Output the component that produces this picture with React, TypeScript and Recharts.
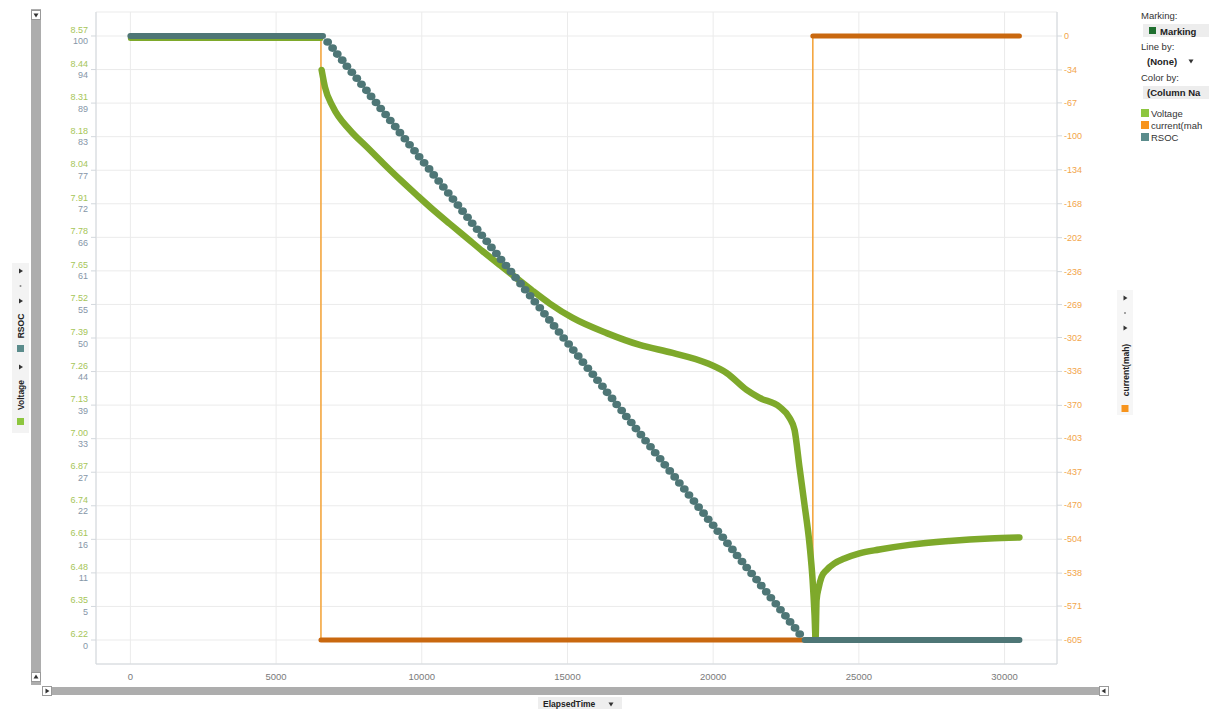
import { ComposedChart, Line, Scatter, XAxis, YAxis, CartesianGrid } from "recharts";

const FONT = '"Liberation Sans", Arial, sans-serif';

// axis ticks
const X_TICKS = [0, 5000, 10000, 15000, 20000, 25000, 30000];
const VOLT_TICKS = ["8.57", "8.44", "8.31", "8.18", "8.04", "7.91", "7.78", "7.65", "7.52", "7.39", "7.26", "7.13", "7.00", "6.87", "6.74", "6.61", "6.48", "6.35", "6.22"];
const RSOC_TICKS = [100, 94, 89, 83, 77, 72, 66, 61, 55, 50, 44, 39, 33, 27, 22, 16, 11, 5, 0];
const CURRENT_TICKS = [0, -34, -67, -100, -134, -168, -202, -236, -269, -302, -336, -370, -403, -437, -470, -504, -538, -571, -605];

// Voltage: rest before discharge, then the discharge + recovery curve
const VOLT_REST_T = [0, 6540];
const VOLT_REST_V = [8.56, 8.56];
const VOLT_T = [6563, 6676, 6951, 7534, 8117, 8665, 9248, 9831, 10380, 10963, 11546, 12095, 12678, 13261, 13810, 14393, 15181, 16347, 17479, 18610, 19776, 20462, 21148, 21594, 22280, 22623, 22794, 22966, 23137, 23309, 23412, 23480, 23515, 23549, 23618, 23718, 23890, 24164, 24507, 25021, 25707, 26736, 28107, 29479, 30510];
const VOLT_V = [8.438, 8.372, 8.294, 8.204, 8.138, 8.076, 8.012, 7.951, 7.895, 7.839, 7.784, 7.732, 7.679, 7.627, 7.578, 7.529, 7.473, 7.414, 7.368, 7.337, 7.298, 7.259, 7.193, 7.162, 7.127, 7.084, 7.037, 6.889, 6.745, 6.59, 6.454, 6.317, 6.228, 6.376, 6.422, 6.465, 6.492, 6.518, 6.537, 6.557, 6.572, 6.59, 6.605, 6.615, 6.619];

// current(mah)
const CURRENT_T = [0, 6540, 6540, 23420, 23420, 30510];
const CURRENT_MA = [0, 0, -605, -605, 0, 0];

// RSOC: full, then one step per percent, then empty
const RSOC_FULL_T = [0, 6610];
const RSOC_EMPTY_T = [23140, 30510];
const RSOC_STEP_T = [
  6770, 6940, 7100, 7270, 7430, 7600, 7770, 7930, 8100, 8260,
  8430, 8590, 8760, 8920, 9090, 9250, 9420, 9580, 9750, 9910,
  10080, 10250, 10410, 10580, 10740, 10910, 11070, 11240, 11400, 11570,
  11730, 11900, 12060, 12230, 12390, 12560, 12720, 12890, 13060, 13220,
  13390, 13550, 13720, 13880, 14050, 14210, 14380, 14540, 14710, 14870,
  15040, 15200, 15370, 15530, 15700, 15870, 16030, 16200, 16360, 16530,
  16690, 16860, 17020, 17190, 17350, 17520, 17680, 17850, 18010, 18180,
  18340, 18510, 18680, 18840, 19010, 19170, 19340, 19500, 19670, 19830,
  20000, 20160, 20330, 20490, 20660, 20820, 20990, 21150, 21320, 21490,
  21650, 21820, 21980, 22150, 22310, 22480, 22640, 22810, 22970,
];
const RSOC_STEP_V = [
  99, 98, 97, 96, 95, 94, 93, 92, 91, 90,
  89, 88, 87, 86, 85, 84, 83, 82, 81, 80,
  79, 78, 77, 76, 75, 74, 73, 72, 71, 70,
  69, 68, 67, 66, 65, 64, 63, 62, 61, 60,
  59, 58, 57, 56, 55, 54, 53, 52, 51, 50,
  49, 48, 47, 46, 45, 44, 43, 42, 41, 40,
  39, 38, 37, 36, 35, 34, 33, 32, 31, 30,
  29, 28, 27, 26, 25, 24, 23, 22, 21, 20,
  19, 18, 17, 16, 15, 14, 13, 12, 11, 10,
  9, 8, 7, 6, 5, 4, 3, 2, 1,
];

const COLORS = {
  volt: "#7EA92B",
  rsoc: "#4E7676",
  currentThin: "#F4A640",
  currentThick: "#C9680F",
  axis: "#D3D8DD",
  grid: "#EBEBEB",
};

const voltRest = VOLT_REST_T.map((t, i) => ({ t, v: VOLT_REST_V[i] }));
const voltCurve = VOLT_T.map((t, i) => ({ t, v: VOLT_V[i] }));
const current = CURRENT_T.map((t, i) => ({ t, c: CURRENT_MA[i] }));
// flat runs of the current get the heavy marker band
const currentRuns = current.slice(1).map((p, i) => [current[i], p]).filter(([a, b]) => a.c === b.c);
const rsocFull = RSOC_FULL_T.map((t) => ({ t, rsoc: RSOC_TICKS[0] }));
const rsocEmpty = RSOC_EMPTY_T.map((t) => ({ t, rsoc: RSOC_TICKS[RSOC_TICKS.length - 1] }));
const rsocSteps = RSOC_STEP_T.map((t, i) => ({ t, rsoc: RSOC_STEP_V[i] }));

// left axis: evenly spaced gridlines, labels truncated in the source
const N = RSOC_TICKS.length - 1;
const LEVEL_TICKS = RSOC_TICKS.map((_, i) => 100 - (i * 100) / N);

const XTick = (props: any) => {
  const { x, y, payload } = props;
  return (
    <text x={x} y={y + 14} textAnchor="middle" fontSize={9.5} fill="#7A7A7A" fontFamily={FONT}>
      {payload.value}
    </text>
  );
};

const LeftTick = (props: any) => {
  const { x, y, payload } = props;
  const i = Math.round(((100 - payload.value) * N) / 100);
  return (
    <g fontFamily={FONT} fontSize={9} textAnchor="end">
      <text x={x} y={y - 3} fill="#A6C558">{VOLT_TICKS[i]}</text>
      <text x={x} y={y + 8.5} fill="#8696A8">{RSOC_TICKS[i]}</text>
    </g>
  );
};

const RightTick = (props: any) => {
  const { x, y, payload } = props;
  return (
    <text x={x} y={y + 3} textAnchor="start" fontSize={9} fill="#F2A54A" fontFamily={FONT}>
      {payload.value}
    </text>
  );
};

const Bead = (props: any) => <ellipse cx={props.cx} cy={props.cy} rx={4.4} ry={3.8} fill={COLORS.rsoc} />;

const Tri = ({ x, y, dir }: { x: number; y: number; dir: "r" | "l" | "d" | "u" }) => {
  const s = 2.5;
  const pts =
    dir === "r" ? `${x - s + 1},${y - s} ${x + s},${y} ${x - s + 1},${y + s}` :
    dir === "l" ? `${x + s - 1},${y - s} ${x - s},${y} ${x + s - 1},${y + s}` :
    dir === "d" ? `${x - s},${y - s + 1} ${x + s},${y - s + 1} ${x},${y + s}` :
    `${x - s},${y + s - 1} ${x + s},${y + s - 1} ${x},${y - s}`;
  return <polygon points={pts} fill="#333" />;
};

function Chrome() {
  return (
    <svg width={1209} height={709} style={{ position: "absolute", left: 0, top: 0, pointerEvents: "none" }} fontFamily={FONT}>
      {/* left vertical scrollbar */}
      <rect x={31} y={9} width={10} height={676} fill="#ADADAD" />
      <rect x={31.5} y={10.5} width={9} height={9} fill="#fff" stroke="#999" />
      <Tri x={36} y={15} dir="d" />
      <rect x={31.5} y={672.5} width={9} height={9} fill="#fff" stroke="#999" />
      <Tri x={36} y={677} dir="u" />

      {/* bottom horizontal scrollbar */}
      <rect x={42} y={687} width={1067} height={8} fill="#ADADAD" />
      <rect x={42.5} y={686.5} width={9} height={9} fill="#fff" stroke="#999" />
      <Tri x={47} y={691} dir="r" />
      <rect x={1099.5} y={686.5} width={9} height={9} fill="#fff" stroke="#999" />
      <Tri x={1104} y={691} dir="l" />

      {/* left axis selectors */}
      <rect x={12} y={263} width={17} height={170} fill="#F3F3F3" />
      <Tri x={20.5} y={271} dir="r" />
      <circle cx={20.5} cy={286} r={1} fill="#888" />
      <Tri x={20.5} y={301} dir="r" />
      <text transform="translate(24,326) rotate(-90)" textAnchor="middle" fontSize={8.5} fontWeight="bold" fill="#222">RSOC</text>
      <rect x={17} y={345} width={7} height={7} fill="#5B8C8C" />
      <Tri x={20.5} y={367} dir="r" />
      <text transform="translate(24,395) rotate(-90)" textAnchor="middle" fontSize={8.5} fontWeight="bold" fill="#222">Voltage</text>
      <rect x={17} y={418} width={7} height={7} fill="#8DC63F" />

      {/* right axis selectors */}
      <rect x={1117} y={290} width={16} height={125} fill="#F6F6F6" />
      <Tri x={1125} y={298} dir="r" />
      <circle cx={1125} cy={313} r={1} fill="#888" />
      <Tri x={1125} y={328} dir="r" />
      <text transform="translate(1128.5,370) rotate(-90)" textAnchor="middle" fontSize={8.5} fontWeight="bold" fill="#222">current(mah)</text>
      <rect x={1121.5} y={405} width={7} height={7} fill="#F7941D" />

      {/* x axis selector */}
      <rect x={538} y={697} width={84} height={12} fill="#EEEEEE" />
      <text x={543} y={707} fontSize={8.5} fontWeight="bold" fill="#222">ElapsedTime</text>
      <Tri x={611} y={704} dir="d" />

      {/* legend panel */}
      <g fontSize={9.5} fill="#333">
        <text x={1141} y={19}>Marking:</text>
        <rect x={1143} y={24} width={66} height={13} fill="#EDEDED" />
        <rect x={1149} y={27} width={7} height={7} fill="#1F6F2F" />
        <text x={1160} y={34.5} fontWeight="bold" fill="#222">Marking</text>
        <text x={1141} y={50}>Line by:</text>
        <text x={1147} y={64.5} fontWeight="bold" fill="#222">(None)</text>
        <Tri x={1191} y={61} dir="d" />
        <text x={1141} y={81}>Color by:</text>
        <rect x={1143} y={86} width={66} height={13} fill="#EDEDED" />
        <text x={1147} y={95.5} fontWeight="bold" fill="#222">(Column Na</text>
        <rect x={1141} y={109} width={8} height={8} fill="#8DC63F" />
        <text x={1151} y={116.5}>Voltage</text>
        <rect x={1141} y={121} width={8} height={8} fill="#F7941D" />
        <text x={1151} y={128.5}>current(mah</text>
        <rect x={1141} y={133} width={8} height={8} fill="#5B8C8C" />
        <text x={1151} y={140.5}>RSOC</text>
      </g>
    </svg>
  );
}

export default function App() {
  return (
    <div style={{ position: "relative", width: 1209, height: 709, overflow: "hidden", background: "#fff", fontFamily: FONT }}>
      <style>{"body{margin:0}"}</style>
      <ComposedChart width={1209} height={709} margin={{ top: 12, right: 102, bottom: 25, left: 46 }}>
        <CartesianGrid stroke={COLORS.grid} yAxisId="rsoc" />
        <XAxis
          dataKey="t"
          type="number"
          domain={[-1180, 31800]}
          ticks={X_TICKS}
          allowDataOverflow
          interval={0}
          height={20}
          axisLine={{ stroke: COLORS.axis }}
          tickLine={false}
          tickSize={0}
          tick={<XTick />}
        />
        <YAxis
          yAxisId="rsoc"
          type="number"
          domain={[-3.973, 103.973]}
          ticks={LEVEL_TICKS}
          allowDataOverflow
          interval={0}
          width={50}
          axisLine={{ stroke: COLORS.axis }}
          tickLine={{ stroke: COLORS.axis }}
          tickSize={5}
          tickMargin={3}
          tick={<LeftTick />}
        />
        <YAxis yAxisId="volt" type="number" domain={[6.1266, 8.6634]} allowDataOverflow hide />
        <YAxis
          yAxisId="cur"
          orientation="right"
          type="number"
          domain={[-629.04, 24.04]}
          ticks={CURRENT_TICKS}
          allowDataOverflow
          interval={0}
          width={50}
          axisLine={{ stroke: COLORS.axis }}
          tickLine={{ stroke: COLORS.axis }}
          tickSize={5}
          tickMargin={2}
          tick={<RightTick />}
        />

        <Line yAxisId="cur" data={current} dataKey="c" type="linear" stroke={COLORS.currentThin} strokeWidth={1.6} dot={false} activeDot={false} isAnimationActive={false} />
        {currentRuns.map((run, i) => (
          <Line key={`run-${i}`} yAxisId="cur" data={run} dataKey="c" type="linear" stroke={COLORS.currentThick} strokeWidth={5} strokeLinecap="round" dot={false} activeDot={false} isAnimationActive={false} />
        ))}

        <Line yAxisId="volt" data={voltRest} dataKey="v" type="linear" stroke={COLORS.volt} strokeWidth={5} strokeLinecap="round" dot={false} activeDot={false} isAnimationActive={false} />
        <Line yAxisId="volt" data={voltCurve} dataKey="v" type="monotone" stroke={COLORS.volt} strokeWidth={6.5} strokeLinecap="round" strokeLinejoin="round" dot={false} activeDot={false} isAnimationActive={false} />

        <Line yAxisId="rsoc" data={rsocFull} dataKey="rsoc" type="linear" stroke={COLORS.rsoc} strokeWidth={6} strokeLinecap="round" dot={false} activeDot={false} isAnimationActive={false} />
        <Line yAxisId="rsoc" data={rsocEmpty} dataKey="rsoc" type="linear" stroke={COLORS.rsoc} strokeWidth={6} strokeLinecap="round" dot={false} activeDot={false} isAnimationActive={false} />
        <Scatter yAxisId="rsoc" data={rsocSteps} dataKey="rsoc" shape={<Bead />} isAnimationActive={false} />
      </ComposedChart>
      <Chrome />
    </div>
  );
}
